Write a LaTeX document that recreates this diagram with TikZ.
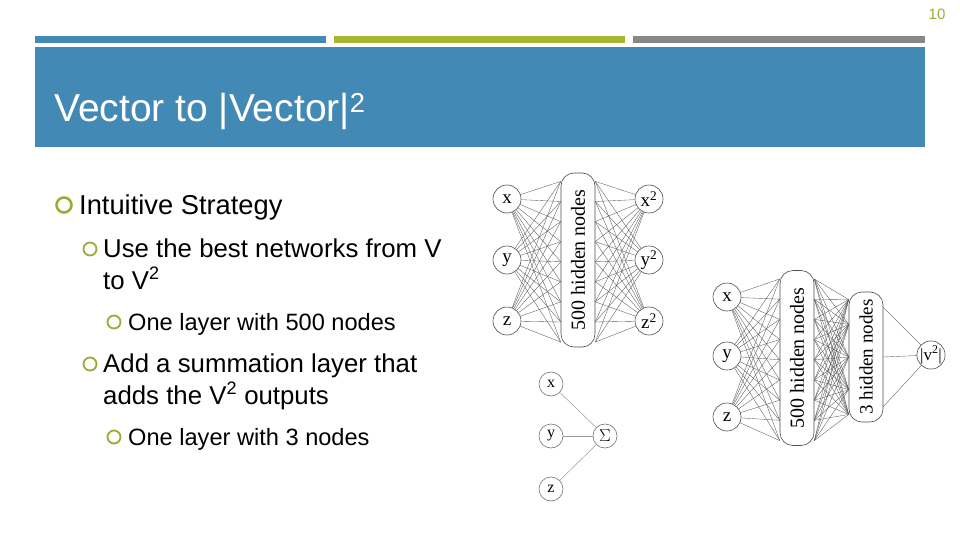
\documentclass[tikz,border=0pt]{standalone}
\usepackage{fontspec}
\setmainfont{Liberation Sans}
\newfontfamily\netfont{Liberation Serif}
\usepackage{tikz}
\usetikzlibrary{positioning,calc}
\definecolor{slideblue}{HTML}{4389B5}
\definecolor{slidegreen}{HTML}{A5B82F}
\definecolor{slidegray}{HTML}{878787}
\definecolor{bulletolive}{HTML}{9DAA36}
\tikzset{
  bar/.style={fill=#1,draw=none},
  bulletone/.style={circle,draw=bulletolive,line width=2.6pt,minimum size=15pt,inner sep=0pt},
  bullettwo/.style={circle,draw=bulletolive,line width=1.8pt,minimum size=13pt,inner sep=0pt},
  lvlone/.style={anchor=base west,inner sep=0pt,font=\fontsize{27.3}{32}\selectfont},
  lvltwo/.style={anchor=base west,inner sep=0pt,font=\fontsize{25.8}{30}\selectfont},
  lvlthree/.style={anchor=base west,inner sep=0pt,font=\fontsize{23.6}{28}\selectfont},
  unit/.style={circle,draw=black!70,line width=0.6pt,minimum size=28pt,inner sep=0pt,
    font=\netfont\fontsize{19}{19}\selectfont},
  smallunit/.style={unit,draw=black!55,minimum size=24pt,font=\netfont\fontsize{16}{16}\selectfont},
  hidbox/.style={draw=black!70,line width=0.6pt,rounded corners=13pt,minimum width=34pt},
  boxtext/.style={rotate=90,font=\netfont\fontsize{20}{20}\selectfont},
  link/.style={draw=black!65,line width=0.35pt},
  softlink/.style={draw=black!40,line width=0.5pt}
}

\begin{document}
\begin{tikzpicture}[x=1pt,y=-1pt]
  \useasboundingbox (0,0) rectangle (960,540);
  % header
  \node[text=bulletolive,font=\fontsize{15}{15}\selectfont] (page) at (937,14) {10};
  \fill[bar=slideblue] (35,36) rectangle (326,43);
  \fill[bar=slidegreen] (334,36) rectangle (625,43);
  \fill[bar=slidegray] (633,36) rectangle (925,43);
  \fill[bar=slideblue] (35,47) rectangle (925,147);
  \node[anchor=base west,inner sep=0pt,text=white,font=\fontsize{39}{39}\selectfont] (title)
    at (54,122) {Vector to |Vector|\textsuperscript{2}};

  % bullet text
  \node[bulletone] (b1) at (64,205) {};
  \node[lvlone] (t1) at (79,214) {Intuitive Strategy};
  \node[bullettwo] (b2) at (90,249) {};
  \node[lvltwo] (t2) at (103,257) {Use the best networks from V};
  \node[lvltwo] (t2b) at (103,289) {to V\textsuperscript{2}};
  \node[bullettwo] (b3) at (114,322) {};
  \node[lvlthree] (t3) at (128,330) {One layer with 500 nodes};
  \node[bullettwo] (b4) at (90,364) {};
  \node[lvltwo] (t4) at (103,372) {Add a summation layer that};
  \node[lvltwo] (t4b) at (103,404) {adds the V\textsuperscript{2} outputs};
  \node[bullettwo] (b5) at (114,437) {};
  \node[lvlthree] (t5) at (128,445) {One layer with 3 nodes};

  % V to V^2 network
  \node[unit] (inx) at (507,199) {x};
  \node[unit] (iny) at (507,260) {y};
  \node[unit] (inz) at (507,321) {z};
  \node[hidbox,minimum height=174pt] (hid) at (578,260) {};
  \node[boxtext] (hidtext) at (hid) {500 hidden nodes};
  \node[unit] (outx) at (649,199) {x\textsuperscript{2}};
  \node[unit] (outy) at (649,260) {y\textsuperscript{2}};
  \node[unit] (outz) at (649,321) {z\textsuperscript{2}};
  \foreach \n in {x,y,z}
    \foreach \t in {0.05,0.165,0.28,0.395,0.51,0.625,0.74,0.855,0.97}{
      \draw[link] (in\n) -- ($(hid.north west)!\t!(hid.south west)$);
      \draw[link] (out\n) -- ($(hid.north east)!\t!(hid.south east)$);
    }

  % V to |V|^2 network
  \node[unit] (sx) at (727,297) {x};
  \node[unit] (sy) at (727,356) {y};
  \node[unit] (sz) at (727,417) {z};
  \node[hidbox,minimum height=175pt] (big) at (797,358) {};
  \node[boxtext] (bigtext) at (big) {500 hidden nodes};
  \node[hidbox,minimum height=130pt] (small) at (866,357) {};
  \node[boxtext,font=\netfont\fontsize{19}{19}\selectfont] (smalltext) at (small) {3 hidden nodes};
  \node[unit,font=\netfont\fontsize{17}{17}\selectfont] (norm) at (931,355) {|v\textsuperscript{2}|};
  \foreach \n in {x,y,z}
    \foreach \t in {0.05,0.165,0.28,0.395,0.51,0.625,0.74,0.855,0.97}
      \draw[link] (s\n) -- ($(big.north west)!\t!(big.south west)$);
  \foreach \s in {0.05,0.165,0.28,0.395,0.51,0.625,0.74,0.855,0.97}
    \foreach \t in {0.06,0.25,0.5,0.75,0.94}
      \draw[link] ($(big.north east)!\s!(big.south east)$) -- ($(small.north west)!\t!(small.south west)$);
  \foreach \t in {0.12,0.5,0.88}
    \draw[link] ($(small.north east)!\t!(small.south east)$) -- (norm);

  % summation
  \node[smallunit] (qx) at (551,384) {x};
  \node[smallunit] (qy) at (551,436) {y};
  \node[smallunit] (qz) at (551,489) {z};
  \node[smallunit] (sum) at (605,436) {$\Sigma$};
  \draw[softlink] (qx) -- (sum);
  \draw[softlink] (qy) -- (sum);
  \draw[softlink] (qz) -- (sum);
\end{tikzpicture}
\end{document}
